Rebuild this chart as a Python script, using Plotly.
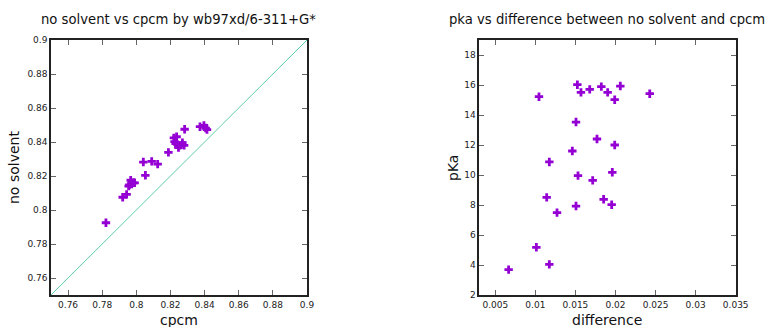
import plotly.graph_objects as go

# Left panel data: no solvent vs cpcm
cpcm = [0.7822, 0.7920, 0.7943, 0.7955, 0.7959, 0.7967, 0.7973, 0.7982, 0.7990,
        0.8041, 0.8053, 0.8090, 0.8125, 0.8188, 0.8220, 0.8236, 0.8224, 0.8230,
        0.8247, 0.8256, 0.8270, 0.8280, 0.8283, 0.8373, 0.8396, 0.8406, 0.8414]
no_solvent = [0.7925, 0.8075, 0.8092, 0.8141, 0.8147, 0.8175, 0.8153, 0.8160, 0.8160,
              0.8282, 0.8204, 0.8286, 0.8270, 0.8339, 0.8424, 0.8431, 0.8402, 0.8390,
              0.8367, 0.8380, 0.8396, 0.8380, 0.8475, 0.8490, 0.8498, 0.8482, 0.8473]
diag = [0.75, 0.9]

# Right panel data: pKa vs difference
difference = [0.01045, 0.01524, 0.01569, 0.01678, 0.01823, 0.01902, 0.0199, 0.0206, 0.02427,
              0.01507, 0.01769, 0.0199, 0.01461, 0.01174, 0.01532, 0.01715, 0.0196,
              0.01141, 0.01852, 0.01507, 0.01952, 0.0127, 0.01012, 0.01174, 0.00666]
pka = [15.22, 16.02, 15.51, 15.71, 15.89, 15.51, 15.02, 15.93, 15.42,
       13.53, 12.4, 12.0, 11.6, 10.87, 9.96, 9.64, 10.18,
       8.51, 8.38, 7.93, 8.02, 7.49, 5.18, 4.04, 3.69]

left_ticks = [0.76, 0.78, 0.8, 0.82, 0.84, 0.86, 0.88, 0.9]
left_ticktext = ["0.76", "0.78", "0.8", "0.82", "0.84", "0.86", "0.88", "0.9"]
right_xticks = [0.005, 0.01, 0.015, 0.02, 0.025, 0.03, 0.035]
right_xticktext = ["0.005", "0.01", "0.015", "0.02", "0.025", "0.03", "0.035"]
right_yticks = [2, 4, 6, 8, 10, 12, 14, 16, 18]

PURPLE = "#9400d3"
W, H = 771, 327

fig = go.Figure()
fig.add_trace(go.Scatter(x=diag, y=diag, mode="lines",
                         line=dict(color="#5ccfaa", width=1),
                         xaxis="x", yaxis="y", showlegend=False, hoverinfo="skip"))
fig.add_trace(go.Scatter(x=cpcm, y=no_solvent, mode="markers",
                         marker=dict(symbol="cross", size=7, color=PURPLE, line=dict(width=0)),
                         xaxis="x", yaxis="y", showlegend=False))
fig.add_trace(go.Scatter(x=difference, y=pka, mode="markers",
                         marker=dict(symbol="cross", size=7, color=PURPLE, line=dict(width=0)),
                         xaxis="x2", yaxis="y2", showlegend=False))

axis_common = dict(showgrid=False, zeroline=False, showline=True, linecolor="#222",
                   linewidth=1.5, mirror="allticks", ticks="inside", ticklen=5,
                   tickcolor="#666", tickwidth=1, automargin=False,
                   tickfont=dict(family="DejaVu Sans", size=9, color="#222"))

ytop = 1 - 40 / H
ybot = 1 - 295 / H

fig.update_layout(
    width=W, height=H,
    margin=dict(l=0, r=0, t=0, b=0, autoexpand=False),
    paper_bgcolor="white", plot_bgcolor="white",
    xaxis=dict(domain=[51 / W, 307 / W], range=[0.75, 0.9], tickvals=left_ticks,
               ticktext=left_ticktext, anchor="y", **axis_common),
    yaxis=dict(domain=[ybot, ytop], range=[0.75, 0.9], tickvals=left_ticks,
               ticktext=left_ticktext, anchor="x", **axis_common),
    xaxis2=dict(domain=[479.3 / W, 735.7 / W], range=[0.003, 0.035], tickvals=right_xticks,
                ticktext=right_xticktext, anchor="y2", **axis_common),
    yaxis2=dict(domain=[ybot, ytop], range=[2, 19], tickvals=right_yticks,
                anchor="x2", **axis_common),
)

def ann(text, x, y, size, angle=0):
    fig.add_annotation(text=text, x=x / W, y=1 - y / H, xref="paper", yref="paper",
                       showarrow=False, textangle=angle, xanchor="center", yanchor="middle",
                       font=dict(family="DejaVu Sans", size=size, color="#111"))

ann("no solvent vs cpcm by wb97xd/6-311+G*", 178, 19, 13.2)
ann("pka vs difference between no solvent and cpcm", 607, 19, 13.2)
ann("cpcm", 179, 320, 14)
ann("no solvent", 14, 168, 14, -90)
ann("difference", 607, 320, 14)
ann("pKa", 453, 168, 14, -90)

fig.write_html("out.html")
